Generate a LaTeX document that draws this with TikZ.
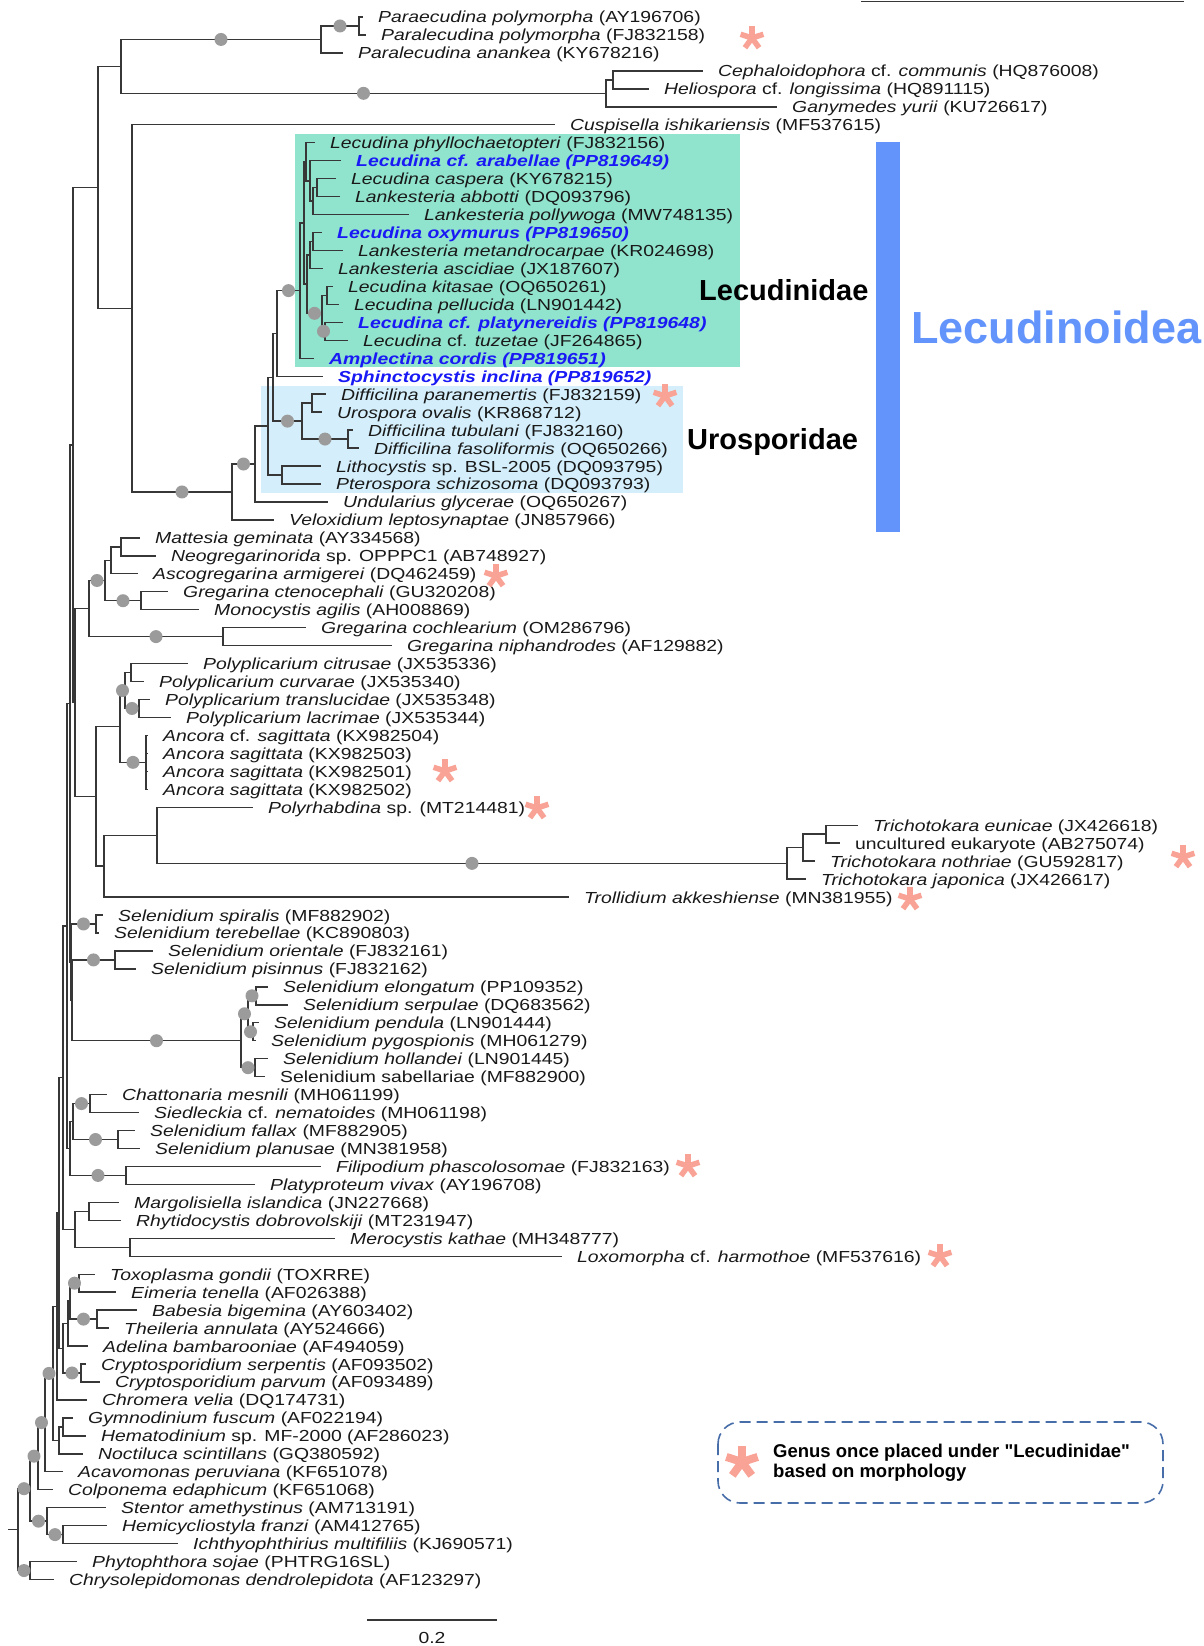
\documentclass[tikz,border=0pt]{standalone}
\usepackage{fontspec}
\setmainfont{Liberation Sans}
\newfontfamily\lbl{Liberation Sans}[FakeStretch=1.21]
\newfontfamily\legf{Liberation Sans}[Ligatures=TeXOff]
\usetikzlibrary{calc}
\definecolor{brc}{RGB}{55,55,55}
\definecolor{supc}{RGB}{155,155,155}
\definecolor{astc}{RGB}{249,162,150}
\definecolor{blu}{RGB}{25,25,245}
\definecolor{lecg}{RGB}{144,227,204}
\definecolor{urob}{RGB}{212,239,251}
\definecolor{lecb}{RGB}{98,148,252}
\definecolor{legc}{RGB}{72,110,170}
\definecolor{txt}{RGB}{25,25,25}
\tikzset{
  br/.style={draw=brc,line width=1.4pt},
  lab/.style={anchor=base west,inner sep=0pt,yshift=-6pt,font=\lbl\fontsize{16}{18}\selectfont,text=txt},
  hdr/.style={anchor=base west,inner sep=0pt,font=\bfseries\fontsize{29}{32}\selectfont,text=black},
}
\newcommand{\tipl}[4]{\coordinate (#1) at ({#2-15},{17+17.96*(#3-1)});
  \node[lab] (L#1) at ({#2},{17+17.96*(#3-1)}) {#4};}
\newcommand{\inode}[4]{\path let \p1=(#3), \p2=(#4) in (#2pt,{0.5*(\y1+\y2)}) coordinate (#1);}
\newcommand{\brs}[2]{\foreach \kid in {#2}{\draw[br] (#1) |- (\kid);}}
\newcommand{\bsup}[2]{\fill[supc] ($(#1 |- #2)!0.5!(#2)$) circle[radius=6.5pt];}
\newcommand{\astk}[3]{\foreach \ang in {90,18,162,234,306}{\draw[astc,line width=#3] (#1) -- ++(\ang:#2pt);}}
\newcommand{\bluel}[1]{{\color{blu}\bfseries\itshape #1}}
\begin{document}
\begin{tikzpicture}[x=1pt,y=-1pt]
\useasboundingbox (0,0) rectangle (1204,1646);
\fill[white] (0,0) rectangle (1204,1646);
% clade boxes
\fill[lecg] (295,134) rectangle (740,367);
\fill[urob] (261,386) rectangle (683,493);
\fill[lecb] (876,142) rectangle (900,532);
% leaves
\tipl{t1}{378}{1}{\textit{Paraecudina polymorpha} (AY196706)}
\tipl{t2}{381}{2}{\textit{Paralecudina polymorpha} (FJ832158)}
\tipl{t3}{358}{3}{\textit{Paralecudina anankea} (KY678216)}
\tipl{t4}{718}{4}{\textit{Cephaloidophora} cf. \textit{communis} (HQ876008)}
\tipl{t5}{664}{5}{\textit{Heliospora} cf. \textit{longissima} (HQ891115)}
\tipl{t6}{792}{6}{\textit{Ganymedes yurii} (KU726617)}
\tipl{t7}{570}{7}{\textit{Cuspisella ishikariensis} (MF537615)}
\tipl{t8}{330}{8}{\textit{Lecudina phyllochaetopteri} (FJ832156)}
\tipl{t9}{356}{9}{\bluel{Lecudina cf. arabellae (PP819649)}}
\tipl{t10}{351}{10}{\textit{Lecudina caspera} (KY678215)}
\tipl{t11}{355}{11}{\textit{Lankesteria abbotti} (DQ093796)}
\tipl{t12}{424}{12}{\textit{Lankesteria pollywoga} (MW748135)}
\tipl{t13}{337}{13}{\bluel{Lecudina oxymurus (PP819650)}}
\tipl{t14}{358}{14}{\textit{Lankesteria metandrocarpae} (KR024698)}
\tipl{t15}{338}{15}{\textit{Lankesteria ascidiae} (JX187607)}
\tipl{t16}{348}{16}{\textit{Lecudina kitasae} (OQ650261)}
\tipl{t17}{354}{17}{\textit{Lecudina pellucida} (LN901442)}
\tipl{t18}{358}{18}{\bluel{Lecudina cf. platynereidis (PP819648)}}
\tipl{t19}{363}{19}{\textit{Lecudina} cf. \textit{tuzetae} (JF264865)}
\tipl{t20}{329}{20}{\bluel{Amplectina cordis (PP819651)}}
\tipl{t21}{338}{21}{\bluel{Sphinctocystis inclina (PP819652)}}
\tipl{t22}{341}{22}{\textit{Difficilina paranemertis} (FJ832159)}
\tipl{t23}{337}{23}{\textit{Urospora ovalis} (KR868712)}
\tipl{t24}{368}{24}{\textit{Difficilina tubulani} (FJ832160)}
\tipl{t25}{374}{25}{\textit{Difficilina fasoliformis} (OQ650266)}
\tipl{t26}{336}{26}{\textit{Lithocystis} sp. BSL-2005 (DQ093795)}
\tipl{t27}{336}{27}{\textit{Pterospora schizosoma} (DQ093793)}
\tipl{t28}{343}{28}{\textit{Undularius glycerae} (OQ650267)}
\tipl{t29}{289}{29}{\textit{Veloxidium leptosynaptae} (JN857966)}
\tipl{t30}{155}{30}{\textit{Mattesia geminata} (AY334568)}
\tipl{t31}{171}{31}{\textit{Neogregarinorida} sp. OPPPC1 (AB748927)}
\tipl{t32}{153}{32}{\textit{Ascogregarina armigerei} (DQ462459)}
\tipl{t33}{183}{33}{\textit{Gregarina ctenocephali} (GU320208)}
\tipl{t34}{214}{34}{\textit{Monocystis agilis} (AH008869)}
\tipl{t35}{321}{35}{\textit{Gregarina cochlearium} (OM286796)}
\tipl{t36}{407}{36}{\textit{Gregarina niphandrodes} (AF129882)}
\tipl{t37}{203}{37}{\textit{Polyplicarium citrusae} (JX535336)}
\tipl{t38}{159}{38}{\textit{Polyplicarium curvarae} (JX535340)}
\tipl{t39}{165}{39}{\textit{Polyplicarium translucidae} (JX535348)}
\tipl{t40}{186}{40}{\textit{Polyplicarium lacrimae} (JX535344)}
\tipl{t41}{163}{41}{\textit{Ancora} cf. \textit{sagittata} (KX982504)}
\tipl{t42}{163}{42}{\textit{Ancora sagittata} (KX982503)}
\tipl{t43}{163}{43}{\textit{Ancora sagittata} (KX982501)}
\tipl{t44}{163}{44}{\textit{Ancora sagittata} (KX982502)}
\tipl{t45}{268}{45}{\textit{Polyrhabdina} sp. (MT214481)}
\tipl{t46}{873}{46}{\textit{Trichotokara eunicae} (JX426618)}
\tipl{t47}{855}{47}{uncultured eukaryote (AB275074)}
\tipl{t48}{830}{48}{\textit{Trichotokara nothriae} (GU592817)}
\tipl{t49}{821}{49}{\textit{Trichotokara japonica} (JX426617)}
\tipl{t50}{584}{50}{\textit{Trollidium akkeshiense} (MN381955)}
\tipl{t51}{118}{51}{\textit{Selenidium spiralis} (MF882902)}
\tipl{t52}{114}{52}{\textit{Selenidium terebellae} (KC890803)}
\tipl{t53}{168}{53}{\textit{Selenidium orientale} (FJ832161)}
\tipl{t54}{151}{54}{\textit{Selenidium pisinnus} (FJ832162)}
\tipl{t55}{283}{55}{\textit{Selenidium elongatum} (PP109352)}
\tipl{t56}{303}{56}{\textit{Selenidium serpulae} (DQ683562)}
\tipl{t57}{274}{57}{\textit{Selenidium pendula} (LN901444)}
\tipl{t58}{271}{58}{\textit{Selenidium pygospionis} (MH061279)}
\tipl{t59}{283}{59}{\textit{Selenidium hollandei} (LN901445)}
\tipl{t60}{280}{60}{Selenidium sabellariae (MF882900)}
\tipl{t61}{122}{61}{\textit{Chattonaria mesnili} (MH061199)}
\tipl{t62}{154}{62}{\textit{Siedleckia} cf. \textit{nematoides} (MH061198)}
\tipl{t63}{150}{63}{\textit{Selenidium fallax} (MF882905)}
\tipl{t64}{155}{64}{\textit{Selenidium planusae} (MN381958)}
\tipl{t65}{336}{65}{\textit{Filipodium phascolosomae} (FJ832163)}
\tipl{t66}{270}{66}{\textit{Platyproteum vivax} (AY196708)}
\tipl{t67}{134}{67}{\textit{Margolisiella islandica} (JN227668)}
\tipl{t68}{136}{68}{\textit{Rhytidocystis dobrovolskiji} (MT231947)}
\tipl{t69}{350}{69}{\textit{Merocystis kathae} (MH348777)}
\tipl{t70}{577}{70}{\textit{Loxomorpha} cf. \textit{harmothoe} (MF537616)}
\tipl{t71}{110}{71}{\textit{Toxoplasma gondii} (TOXRRE)}
\tipl{t72}{131}{72}{\textit{Eimeria tenella} (AF026388)}
\tipl{t73}{152}{73}{\textit{Babesia bigemina} (AY603402)}
\tipl{t74}{124}{74}{\textit{Theileria annulata} (AY524666)}
\tipl{t75}{103}{75}{\textit{Adelina bambarooniae} (AF494059)}
\tipl{t76}{101}{76}{\textit{Cryptosporidium serpentis} (AF093502)}
\tipl{t77}{115}{77}{\textit{Cryptosporidium parvum} (AF093489)}
\tipl{t78}{102}{78}{\textit{Chromera velia} (DQ174731)}
\tipl{t79}{88}{79}{\textit{Gymnodinium fuscum} (AF022194)}
\tipl{t80}{101}{80}{\textit{Hematodinium} sp. MF-2000 (AF286023)}
\tipl{t81}{98}{81}{\textit{Noctiluca scintillans} (GQ380592)}
\tipl{t82}{78}{82}{\textit{Acavomonas peruviana} (KF651078)}
\tipl{t83}{68}{83}{\textit{Colponema edaphicum} (KF651068)}
\tipl{t84}{121}{84}{\textit{Stentor amethystinus} (AM713191)}
\tipl{t85}{122}{85}{\textit{Hemicycliostyla franzi} (AM412765)}
\tipl{t86}{193}{86}{\textit{Ichthyophthirius multifiliis} (KJ690571)}
\tipl{t87}{92}{87}{\textit{Phytophthora sojae} (PHTRG16SL)}
\tipl{t88}{69}{88}{\textit{Chrysolepidomonas dendrolepidota} (AF123297)}
% internal nodes
\inode{pp1}{359}{t1}{t2}
\inode{para}{321}{pp1}{t3}
\inode{ch}{613}{t4}{t5}
\inode{ceph}{606}{ch}{t6}
\inode{nc}{121}{para}{ceph}
\inode{ca}{317}{t10}{t11}
\inode{cap}{313}{ca}{t12}
\inode{arc}{310}{t9}{cap}
\inode{toplec}{306}{t8}{arc}
\inode{om}{313}{t13}{t14}
\inode{oa}{310}{om}{t15}
\inode{kp}{327}{t16}{t17}
\inode{pt2}{325}{t18}{t19}
\inode{kpt}{322}{kp}{pt2}
\inode{mid}{307}{oa}{kpt}
\inode{lc}{304}{toplec}{mid}
\inode{lecud}{300}{lc}{t20}
\inode{ls}{277}{lecud}{t21}
\inode{du}{312}{t22}{t23}
\inode{dd}{348}{t24}{t25}
\inode{uro}{302}{du}{dd}
\inode{l4}{273}{ls}{uro}
\inode{lp}{282}{t26}{t27}
\inode{l3}{268}{l4}{lp}
\inode{l2}{255}{l3}{t28}
\inode{lec}{232}{l2}{t29}
\inode{nd}{132}{t7}{lec}
\inode{na}{98}{nc}{nd}
\inode{mn}{121}{t30}{t31}
\inode{mna}{111}{mn}{t32}
\inode{gm}{141}{t33}{t34}
\inode{g1}{105}{mna}{gm}
\inode{gc}{223}{t35}{t36}
\inode{g0}{89}{g1}{gc}
\inode{cc}{131}{t37}{t38}
\inode{tlac}{139}{t39}{t40}
\inode{poly}{125}{cc}{tlac}
\inode{anc}{146}{t41}{t44}
\inode{pa}{120}{poly}{anc}
\inode{tri3}{826}{t46}{t47}
\inode{tri2}{803}{tri3}{t48}
\inode{tri}{787}{tri2}{t49}
\inode{npt}{157}{t45}{tri}
\inode{tt}{104}{npt}{t50}
\inode{pall}{96}{pa}{tt}
\inode{gp}{75}{g0}{pall}
\inode{b1}{73}{na}{gp}
\inode{st}{96}{t51}{t52}
\inode{op}{115}{t53}{t54}
\inode{es}{256}{t55}{t56}
\inode{ppn}{253}{t57}{t58}
\inode{espp}{248}{es}{ppn}
\inode{hs}{255}{t59}{t60}
\inode{sel}{241}{espp}{hs}
\inode{s2}{72}{op}{sel}
\inode{s1}{71}{st}{s2}
\inode{bx}{70}{b1}{s1}
\inode{cs}{90}{t61}{t62}
\inode{fp}{118}{t63}{t64}
\inode{c6a}{73}{cs}{fp}
\inode{fpl}{126}{t65}{t66}
\inode{c6}{70}{c6a}{fpl}
\inode{btop}{67}{bx}{c6}
\inode{mr}{89}{t67}{t68}
\inode{ml}{130}{t69}{t70}
\inode{marg}{75}{mr}{ml}
\inode{big}{63}{btop}{marg}
\inode{te}{79}{t71}{t72}
\inode{bt}{97}{t73}{t74}
\inode{coc1}{70}{te}{bt}
\inode{coc}{68}{coc1}{t75}
\inode{cr}{81}{t76}{t77}
\inode{b6}{63}{coc}{cr}
\inode{apx}{59}{big}{b6}
\inode{api}{57}{apx}{t78}
\inode{gh}{63}{t79}{t80}
\inode{dino}{59}{gh}{t81}
\inode{ny}{53}{api}{dino}
\inode{nx}{45}{ny}{t82}
\inode{myzo}{38}{nx}{t83}
\inode{hemi}{63}{t85}{t86}
\inode{cil}{47}{t84}{hemi}
\inode{alv}{30}{myzo}{cil}
\inode{stram}{30}{t87}{t88}
\inode{root}{18}{alv}{stram}
\path (root) ++(-10,0) coordinate (r0);
% branches
\brs{pp1}{t1,t2}
\brs{para}{pp1,t3}
\brs{ch}{t4,t5}
\brs{ceph}{ch,t6}
\brs{nc}{para,ceph}
\brs{ca}{t10,t11}
\brs{cap}{ca,t12}
\brs{arc}{t9,cap}
\brs{toplec}{t8,arc}
\brs{om}{t13,t14}
\brs{oa}{om,t15}
\brs{kp}{t16,t17}
\brs{pt2}{t18,t19}
\brs{kpt}{kp,pt2}
\brs{mid}{oa,kpt}
\brs{lc}{toplec,mid}
\brs{lecud}{lc,t20}
\brs{ls}{lecud,t21}
\brs{du}{t22,t23}
\brs{dd}{t24,t25}
\brs{uro}{du,dd}
\brs{l4}{ls,uro}
\brs{lp}{t26,t27}
\brs{l3}{l4,lp}
\brs{l2}{l3,t28}
\brs{lec}{l2,t29}
\brs{nd}{t7,lec}
\brs{na}{nc,nd}
\brs{mn}{t30,t31}
\brs{mna}{mn,t32}
\brs{gm}{t33,t34}
\brs{g1}{mna,gm}
\brs{gc}{t35,t36}
\brs{g0}{g1,gc}
\brs{cc}{t37,t38}
\brs{tlac}{t39,t40}
\brs{poly}{cc,tlac}
\brs{anc}{t41,t42,t43,t44}
\brs{pa}{poly,anc}
\brs{tri3}{t46,t47}
\brs{tri2}{tri3,t48}
\brs{tri}{tri2,t49}
\brs{npt}{t45,tri}
\brs{tt}{npt,t50}
\brs{pall}{pa,tt}
\brs{gp}{g0,pall}
\brs{b1}{na,gp}
\brs{st}{t51,t52}
\brs{op}{t53,t54}
\brs{es}{t55,t56}
\brs{ppn}{t57,t58}
\brs{espp}{es,ppn}
\brs{hs}{t59,t60}
\brs{sel}{espp,hs}
\brs{s2}{op,sel}
\brs{s1}{st,s2}
\brs{bx}{b1,s1}
\brs{cs}{t61,t62}
\brs{fp}{t63,t64}
\brs{c6a}{cs,fp}
\brs{fpl}{t65,t66}
\brs{c6}{c6a,fpl}
\brs{btop}{bx,c6}
\brs{mr}{t67,t68}
\brs{ml}{t69,t70}
\brs{marg}{mr,ml}
\brs{big}{btop,marg}
\brs{te}{t71,t72}
\brs{bt}{t73,t74}
\brs{coc1}{te,bt}
\brs{coc}{coc1,t75}
\brs{cr}{t76,t77}
\brs{b6}{coc,cr}
\brs{apx}{big,b6}
\brs{api}{apx,t78}
\brs{gh}{t79,t80}
\brs{dino}{gh,t81}
\brs{ny}{api,dino}
\brs{nx}{ny,t82}
\brs{myzo}{nx,t83}
\brs{hemi}{t85,t86}
\brs{cil}{t84,hemi}
\brs{alv}{myzo,cil}
\brs{stram}{t87,t88}
\brs{root}{alv,stram}
\draw[br] (r0) -- (root);
% support circles
\bsup{para}{pp1}\bsup{nc}{para}\bsup{nc}{ceph}
\bsup{nd}{lec}\bsup{lec}{l2}\bsup{ls}{lecud}\bsup{mid}{kpt}\bsup{kpt}{pt2}
\bsup{l4}{uro}\bsup{uro}{dd}
\bsup{g0}{g1}\bsup{g1}{gm}\bsup{g0}{gc}
\bsup{pa}{poly}\bsup{poly}{tlac}\bsup{pa}{anc}\bsup{npt}{tri}
\bsup{s1}{st}\bsup{s2}{op}\bsup{s2}{sel}\bsup{espp}{es}\bsup{sel}{espp}
\bsup{espp}{ppn}\bsup{sel}{hs}
\bsup{c6a}{cs}\bsup{c6a}{fp}\bsup{c6}{fpl}
\bsup{coc1}{te}\bsup{coc1}{bt}\bsup{b6}{cr}
\bsup{nx}{ny}\bsup{myzo}{nx}\bsup{alv}{myzo}\bsup{root}{alv}\bsup{root}{stram}
\bsup{alv}{cil}\bsup{cil}{hemi}
% clade names
\node[hdr] (lecnm) at (699,300.4) {Lecudinidae};
\node[hdr] (uronm) at (687,449.5) {Urosporidae};
\node[anchor=base west,inner sep=0pt,font=\bfseries\fontsize{45}{50}\selectfont,text=lecb] (lecoid) at (911,343) {Lecudinoidea};
% asterisks
\coordinate (ast1) at (752,38);
\coordinate (ast2) at (665,396);
\coordinate (ast3) at (496,576);
\coordinate (ast4) at (445,771);
\coordinate (ast5) at (537,808);
\coordinate (ast6) at (1183,857);
\coordinate (ast7) at (910,899);
\coordinate (ast8) at (688,1166);
\coordinate (ast9) at (940,1256);
\foreach \q in {ast1,ast2,ast3,ast4,ast5,ast6,ast7,ast8,ast9}{\astk{\q}{12}{5.5pt}}
% top line and scale bar
\coordinate (tl1) at (861,1.2);
\coordinate (tl2) at (1184,1.2);
\draw[draw=brc,line width=1.3pt] (tl1) -- (tl2);
\coordinate (sb1) at (367,1620);
\coordinate (sb2) at (497,1620);
\draw[br] (sb1) -- (sb2);
\node[font=\lbl\fontsize{16}{18}\selectfont,text=txt,inner sep=0pt] (sblab) at (432,1638) {0.2};
% legend
\draw[legc,line width=1.6pt,dash pattern=on 11pt off 6pt,rounded corners=22pt] (718,1422) rectangle (1163,1503);
\coordinate (la) at (742,1462);
\astk{la}{16.5}{8pt}
\node[anchor=base west,inner sep=0pt,font=\legf\bfseries\fontsize{18.5}{20.5}\selectfont] (legt1) at (773,1457) {Genus once placed under "Lecudinidae"};
\node[anchor=base west,inner sep=0pt,font=\legf\bfseries\fontsize{18.5}{20.5}\selectfont] (legt2) at (773,1477.5) {based on morphology};
\end{tikzpicture}
\end{document}
